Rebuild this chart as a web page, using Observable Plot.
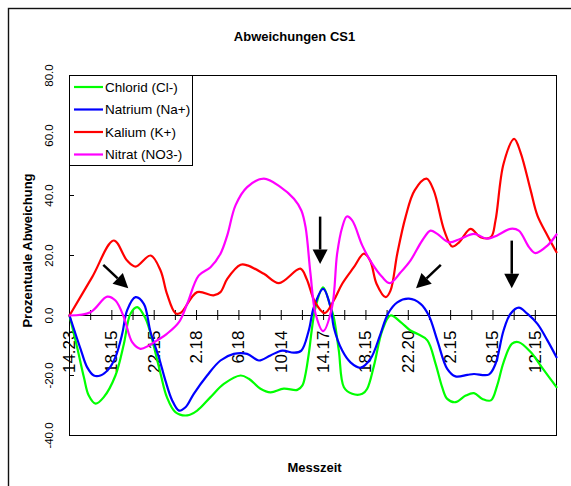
<!DOCTYPE html>
<html><head><meta charset="utf-8">
<script src="https://cdn.jsdelivr.net/npm/d3@7"></script>
<script src="https://cdn.jsdelivr.net/npm/@observablehq/plot@0.6"></script>
<style>body{margin:0;background:#fff} svg{display:block;overflow:hidden}</style>
</head><body><div id="chart"></div>
<script>
// Series names and colours (legend order)
const seriesNames = ["Chlorid (Cl-)", "Natrium (Na+)", "Kalium (K+)", "Nitrat (NO3-)"];
const seriesColors = ["#00ff00", "#0000ff", "#ff0000", "#ff00ff"];

// Category-axis labels (every second measuring time)
const timeLabels = ["14.23","18.15","22.15","2.18","6.18","10.14","14.17","18.15","22.20","2.15","8.15","12.15"];
const yTicks = [-40, -20, 0, 20, 40, 60, 80];

// Values: [time index, percent deviation]
const chlorid = [[0,0],[0.36,-10.6],[0.68,-20.6],[0.91,-26.7],[1.23,-29.4],[1.62,-27.2],[2.17,-20],[2.57,-9.4],[2.88,0.6],[3.2,2.8],[3.59,-1],[3.83,-6.1],[4.3,-19.4],[4.6,-27.2],[5.0,-32.2],[5.56,-33.3],[6.03,-31.7],[6.66,-27.2],[7.29,-22.8],[8.08,-20],[8.47,-21.1],[9.02,-24.4],[9.49,-25.6],[10.12,-24.4],[10.76,-24.8],[11.0,-23.3],[11.15,-19.4],[11.3,-12.8],[11.62,2.8],[11.98,9.4],[12.33,2.8],[12.48,-0.6],[12.72,-11.7],[12.96,-23.9],[13.35,-26.1],[13.83,-26.1],[14.06,-24.4],[14.38,-16.7],[14.77,-5],[15.16,0],[15.64,-2.2],[16.1,-5],[16.42,-6.1],[16.9,-8.3],[17.29,-16.1],[17.6,-23.9],[17.84,-27.8],[18.23,-28.9],[18.71,-26.7],[19.1,-25.9],[19.5,-27.8],[19.9,-28.3],[20.2,-23.3],[20.5,-15.6],[20.9,-9.4],[21.22,-8.9],[21.78,-12.2],[22.25,-16.7],[23,-23.9]];
const natrium = [[0,0],[0.52,-11.1],[0.83,-17.2],[1.15,-20],[1.46,-20],[1.86,-17.8],[2.17,-13.9],[2.49,-6.1],[2.72,1.7],[3.12,6.1],[3.51,3.9],[3.83,-5.6],[4.22,-13.9],[4.53,-21.7],[4.85,-28.3],[5.17,-31.7],[5.48,-30.6],[5.87,-26.1],[6.5,-20],[7.13,-15],[7.76,-12.8],[8.39,-12.8],[8.94,-15],[9.49,-13.3],[10.05,-11.7],[10.6,-12.4],[10.95,-11.7],[11.3,-5],[11.54,2.8],[11.98,8.9],[12.33,2.8],[12.48,-3.9],[12.88,-11.7],[13.27,-15.6],[13.75,-17.4],[14.22,-14.4],[14.69,-6.1],[15.04,0.6],[15.48,4.4],[16.03,5.6],[16.58,3.9],[16.97,0],[17.37,-8.3],[17.84,-17.8],[18.23,-20.3],[18.79,-19.8],[19.1,-19.5],[19.8,-19.7],[20.12,-16.1],[20.5,-5],[20.83,0.6],[21.22,2.6],[21.62,0.6],[22.1,-2.8],[22.57,-8.3],[23,-13.9]];
const kalium = [[0,0],[1.07,12.8],[2.09,25],[2.72,18.3],[3.12,16.3],[3.83,20],[4.3,15],[4.6,7.3],[5.0,0.8],[5.24,0.8],[6.03,7.8],[6.8,6.7],[7.13,7.8],[7.45,12.2],[8.08,16.9],[8.4,16.7],[9.18,13.9],[9.89,10.8],[10.9,15.6],[11.2,12.2],[11.6,4.4],[12.05,0.8],[12.48,5],[12.88,10.6],[13.43,16.1],[13.9,20.6],[14.2,18.3],[14.5,10.6],[14.93,6.1],[15.16,8.3],[15.48,20.6],[15.87,32.8],[16.3,41.7],[16.86,45.6],[17.2,41.7],[17.7,28.3],[18.08,23],[18.4,24.4],[18.94,28.9],[19.41,26.1],[19.9,26.1],[20.12,31.7],[20.5,50.6],[21.0,58.9],[21.3,54.4],[21.78,41.7],[22.1,33.3],[22.57,26.7],[23,21.1]];
const nitrat = [[0,0],[0.99,1.1],[1.78,6.3],[2.17,5],[2.57,-0.6],[2.96,-8.9],[3.35,-11.1],[3.75,-10],[4.14,-8.3],[4.6,-6.1],[5.17,-2.2],[5.56,3.9],[6.1,13.3],[6.66,16.1],[7.13,20.6],[7.45,26.7],[7.84,36.7],[8.39,42.8],[9.18,45.6],[9.97,42.8],[10.6,38.9],[10.95,35],[11.15,29.4],[11.38,14],[11.62,0.6],[11.98,-5.2],[12.4,2.8],[12.64,20.6],[12.88,29.4],[13.1,33],[13.35,31.7],[13.83,23.3],[14.3,17.2],[14.77,12.8],[15.13,10.8],[15.64,14.4],[16.1,18.3],[16.66,25],[17.05,28.3],[17.37,27.2],[17.92,24.4],[18.47,25.6],[19.1,27.2],[19.73,25.6],[20.2,26.7],[20.83,28.9],[21.22,28.3],[21.7,22.8],[22.0,20.8],[22.57,23.3],[23,27]];

// Annotation arrows: [x start, y start, x tip, y tip] in data units
const arrows = [[1.62,16.7,2.8,8.9],[11.86,32.8,11.86,17],[17.56,16.7,16.39,8.9],[20.91,24.8,20.91,8.9]];

const seriesData = [chlorid, natrium, kalium, nitrat];
const rows = seriesData.flatMap((s, k) => s.map(([t, v]) => ({series: seriesNames[k], t, v})));
const FONT = "'Liberation Sans', Arial, Helvetica, sans-serif";

const plot = Plot.plot({
  width: 571, height: 486,
  marginLeft: 69, marginRight: 15, marginTop: 75, marginBottom: 51,
  x: {domain: [0, 23], axis: null},
  y: {domain: [-40, 80], axis: null},
  color: {domain: seriesNames, range: seriesColors},
  style: {fontFamily: FONT, background: "white", color: "black"},
  marks: [
    Plot.frame({stroke: "#111", strokeWidth: 1.4, insetLeft: -61, insetTop: -67, insetRight: -60, insetBottom: -80}),
    Plot.frame({stroke: "#000", strokeWidth: 1}),
    Plot.ruleY([0], {stroke: "#000", strokeWidth: 1}),
    Plot.ruleX(d3.range(0, 24), {x: d => d, y1: 0, y2: 0, insetTop: -5, insetBottom: -5, stroke: "#000"}),
    Plot.ruleY(yTicks, {y: d => d, x1: 0, x2: 0, insetRight: -5, stroke: "#000"}),
    Plot.text(yTicks, {x: 0, y: d => d, text: d => d.toFixed(1), rotate: -90, dx: -20, fontSize: 11.5, fill: "#000"}),
    Plot.text(timeLabels, {x: (d, i) => 2 * i, y: 0, text: d => d, rotate: -90, textAnchor: "end", dy: 15, fontSize: 17, fill: "#000"}),
    Plot.line(rows, {x: "t", y: "v", z: "series", stroke: "series", curve: "catmull-rom", strokeWidth: 2.2}),
    Plot.text(["Abweichungen CS1"], {frameAnchor: "top", dx: -18.5, dy: -44, fontSize: 13, fontWeight: "bold", fill: "#000"}),
    Plot.text(["Messzeit"], {frameAnchor: "bottom", dx: 1.5, dy: 36, fontSize: 13, fontWeight: "bold", fill: "#000"}),
    Plot.text(["Prozentuale Abweichung"], {frameAnchor: "left", textAnchor: "middle", dx: -42, dy: -5, rotate: -90, fontSize: 13, fontWeight: "bold", fill: "#000"})
  ]
});

// Arrows, positioned through the plot's own scales
const sx = plot.scale("x"), sy = plot.scale("y");
const svg = d3.select(plot);
const ga = svg.append("g");
for (const [x1, y1, x2, y2] of arrows) {
  const ax = sx.apply(x1), ay = sy.apply(y1), bx = sx.apply(x2), by = sy.apply(y2);
  const dx = bx - ax, dy = by - ay, L = Math.hypot(dx, dy), ux = dx / L, uy = dy / L;
  const hl = 14.5, hw = 7.5;
  const cx = bx - ux * hl, cy = by - uy * hl;
  ga.append("line").attr("x1", ax).attr("y1", ay).attr("x2", cx).attr("y2", cy)
    .attr("stroke", "#000").attr("stroke-width", 2.5);
  ga.append("polygon").attr("fill", "#000")
    .attr("points", [[bx, by], [cx - uy * hw, cy + ux * hw], [cx + uy * hw, cy - ux * hw]].map(p => p.join(",")).join(" "));
}

// Legend box inside the plot area
const lg = svg.append("g").attr("font-family", FONT).attr("font-size", 13.5).attr("text-anchor", "start");
lg.append("rect").attr("x", 69.5).attr("y", 75.5).attr("width", 123).attr("height", 90)
  .attr("fill", "white").attr("stroke", "#000");
seriesNames.forEach((name, k) => {
  const yy = 87 + k * 22.5;
  lg.append("line").attr("x1", 74).attr("x2", 103).attr("y1", yy).attr("y2", yy)
    .attr("stroke", seriesColors[k]).attr("stroke-width", 2.2);
  lg.append("text").attr("x", 105).attr("y", yy).attr("dy", "0.35em").attr("fill", "#000")
    .attr("text-anchor", "start").text(name);
});

document.getElementById("chart").appendChild(plot);
</script>
</body></html>
